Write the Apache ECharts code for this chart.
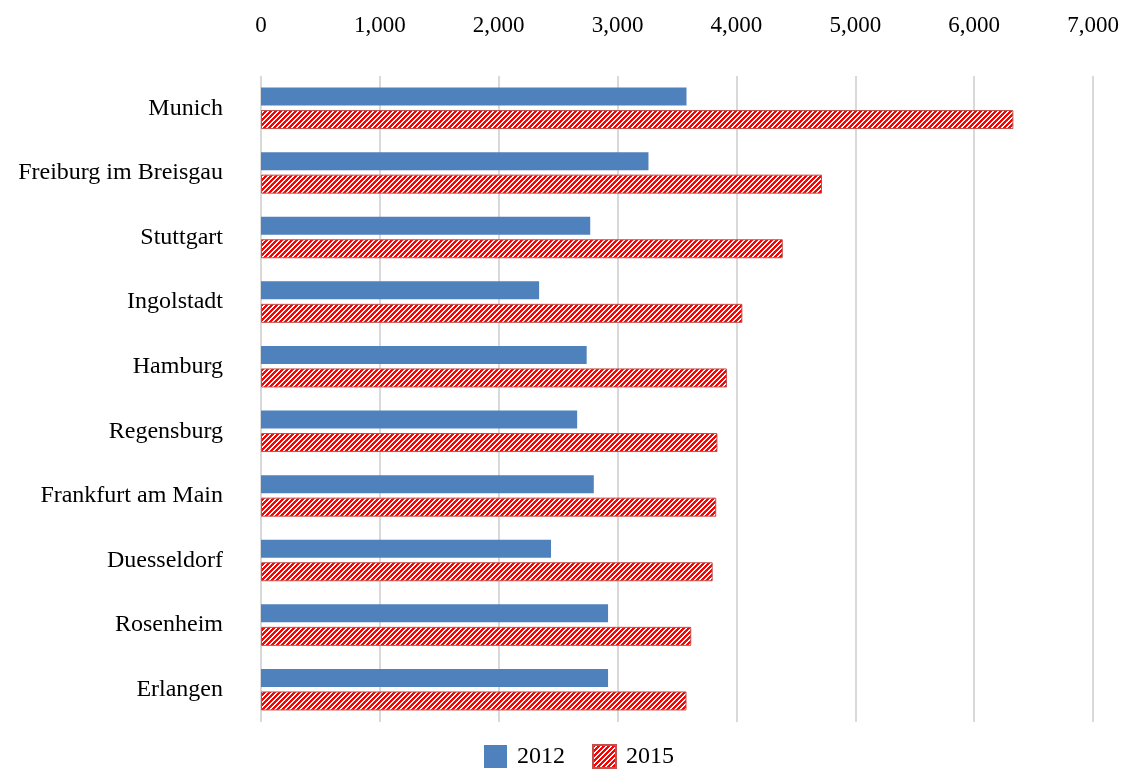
<!DOCTYPE html>
<html>
<head>
<meta charset="utf-8">
<script src="https://cdn.jsdelivr.net/npm/echarts@6/dist/echarts.min.js"></script>
<style>
html,body{margin:0;padding:0;background:#fff;}
#chart{width:1126px;height:769px;}
</style>
</head>
<body>
<div id="chart"></div>
<script>
const categories = ["Munich","Freiburg im Breisgau","Stuttgart","Ingolstadt","Hamburg","Regensburg","Frankfurt am Main","Duesseldorf","Rosenheim","Erlangen"];
const values2012 = [3580,3260,2770,2340,2740,2660,2800,2440,2920,2920];
const values2015 = [6330,4720,4390,4050,3920,3840,3830,3800,3620,3580];
const xTicks = {min:0, max:7000, interval:1000};

function makePattern(){
  const c = document.createElement('canvas');
  const n = 5;
  c.width = n; c.height = n;
  const ctx = c.getContext('2d');
  const img = ctx.createImageData(n, n);
  for (let y=0; y<n; y++){
    for (let x=0; x<n; x++){
      const i = (y*n + x)*4;
      const red = ((x + y) % n) < 3;
      img.data[i] = 255;
      img.data[i+1] = red ? 0 : 255;
      img.data[i+2] = red ? 0 : 255;
      img.data[i+3] = 255;
    }
  }
  ctx.putImageData(img, 0, 0);
  return c;
}

const chart = echarts.init(document.getElementById('chart'));
const font = '"Liberation Serif","Times New Roman",serif';
chart.setOption({
  animation:false,
  grid:{left:261, right:33, top:76, bottom:47},
  xAxis:{
    type:'value', position:'top', min:xTicks.min, max:xTicks.max, interval:xTicks.interval,
    axisLine:{show:false}, axisTick:{show:false},
    splitLine:{lineStyle:{color:'#d9d9d9', width:2}},
    axisLabel:{color:'#000', fontFamily:font, fontSize:23, margin:39,
      formatter:v=>v.toLocaleString('en-US')}
  },
  yAxis:{
    type:'category', data:categories, inverse:true,
    axisLine:{show:false}, axisTick:{show:false},
    axisLabel:{color:'#000', fontFamily:font, fontSize:24, margin:38}
  },
  legend:{
    top:739, left:479, icon:'rect', itemWidth:23, itemHeight:23, itemGap:27,
    textStyle:{color:'#000', fontFamily:font, fontSize:24, padding:[0,0,0,5]},
    data:['2012','2015']
  },
  series:[
    {name:'2012', type:'bar', data:values2012, barWidth:18, barGap:'25%',
     itemStyle:{color:'#4f81bd'}},
    {name:'2015', type:'bar', data:values2015, barWidth:19,
     itemStyle:{color:{image:makePattern(), repeat:'repeat'}, borderColor:'#c0504d', borderWidth:1}}
  ]
});
</script>
</body>
</html>
